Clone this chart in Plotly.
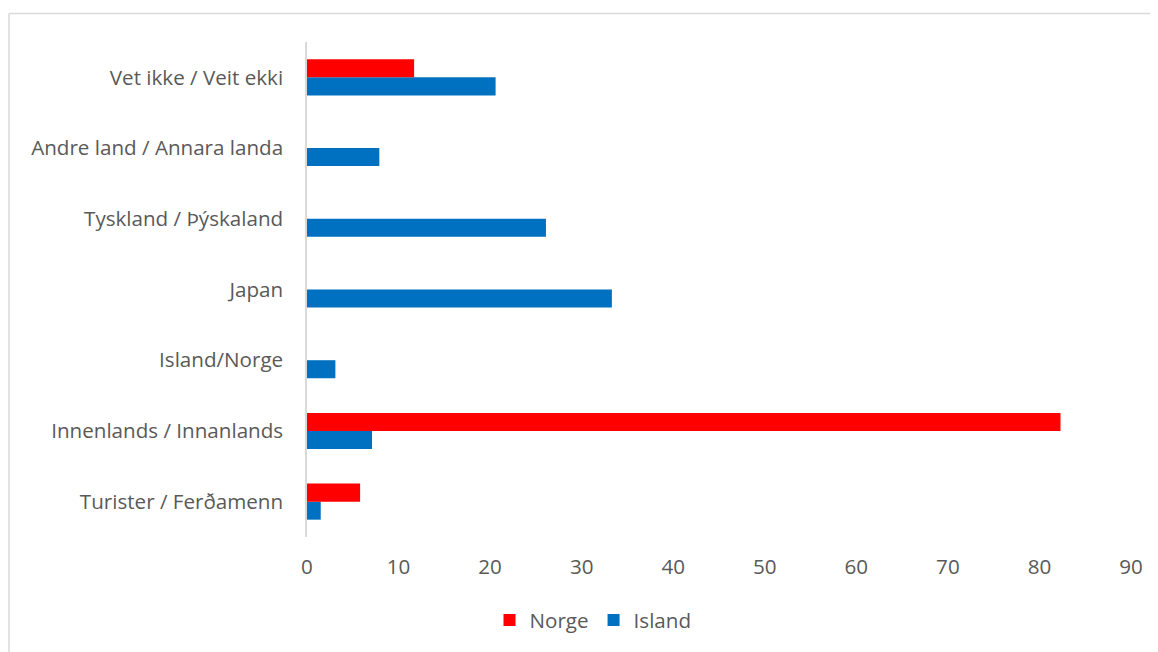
import plotly.graph_objects as go

categories = ["Turister / Ferðamenn", "Innenlands / Innanlands", "Island/Norge",
              "Japan", "Tyskland / Þýskaland", "Andre land / Annara landa",
              "Vet ikke / Veit ekki"]
norge = [5.8, 82.3, None, None, None, None, 11.7]
island = [1.5, 7.1, 3.1, 33.3, 26.1, 7.9, 20.6]
x_ticks = [0, 10, 20, 30, 40, 50, 60, 70, 80, 90]

OFF = 8  # page body margin
W, H = 1158 - OFF, 652 - OFF
L, R, T, B = 307 - OFF, 1131 - OFF, 42 - OFF, 537 - OFF
pw, ph = R - L, B - T

def px(x):
    return (x - OFF - L) / pw

def py(y):
    return (B - (y - OFF)) / ph

fig = go.Figure()
fig.add_trace(go.Bar(y=categories, x=island, name="Island", orientation="h",
                     marker=dict(color="#0070C0", line=dict(width=0)), legendrank=2))
fig.add_trace(go.Bar(y=categories, x=norge, name="Norge", orientation="h",
                     marker=dict(color="#FF0000", line=dict(width=0)), legendrank=1))

font_family = "'Open Sans', Lato, sans-serif"
fs = 20.6
fig.update_layout(
    width=W, height=H,
    margin=dict(l=L, r=W - R, t=T, b=H - B),
    paper_bgcolor="white", plot_bgcolor="white",
    barmode="group", bargap=0.49, bargroupgap=0,
    font=dict(family=font_family, size=fs, color="#595959"),
    xaxis=dict(range=[0, 90], tickvals=x_ticks, showgrid=False, zeroline=False,
               showline=False, ticks="", ticklabelstandoff=15,
               tickfont=dict(size=fs, color="#595959")),
    yaxis=dict(showgrid=False, zeroline=False, showline=True, linecolor="#D9D9D9",
               linewidth=1.5, ticks="", ticklabelstandoff=18,
               tickfont=dict(size=fs, color="#595959")),
    legend=dict(orientation="h", x=px(593), xanchor="center", y=py(620), yanchor="middle",
                font=dict(size=fs, color="#595959"), itemwidth=30, traceorder="normal"),
    showlegend=True,
)

fig.add_shape(type="line", xref="paper", yref="paper", x0=px(9), x1=px(1170),
              y0=py(13.5), y1=py(13.5), line=dict(color="#D9D9D9", width=1.5))
fig.add_shape(type="line", xref="paper", yref="paper", x0=px(9), x1=px(9),
              y0=py(13.5), y1=py(670), line=dict(color="#D9D9D9", width=1.5))

fig.write_html("out.html")
